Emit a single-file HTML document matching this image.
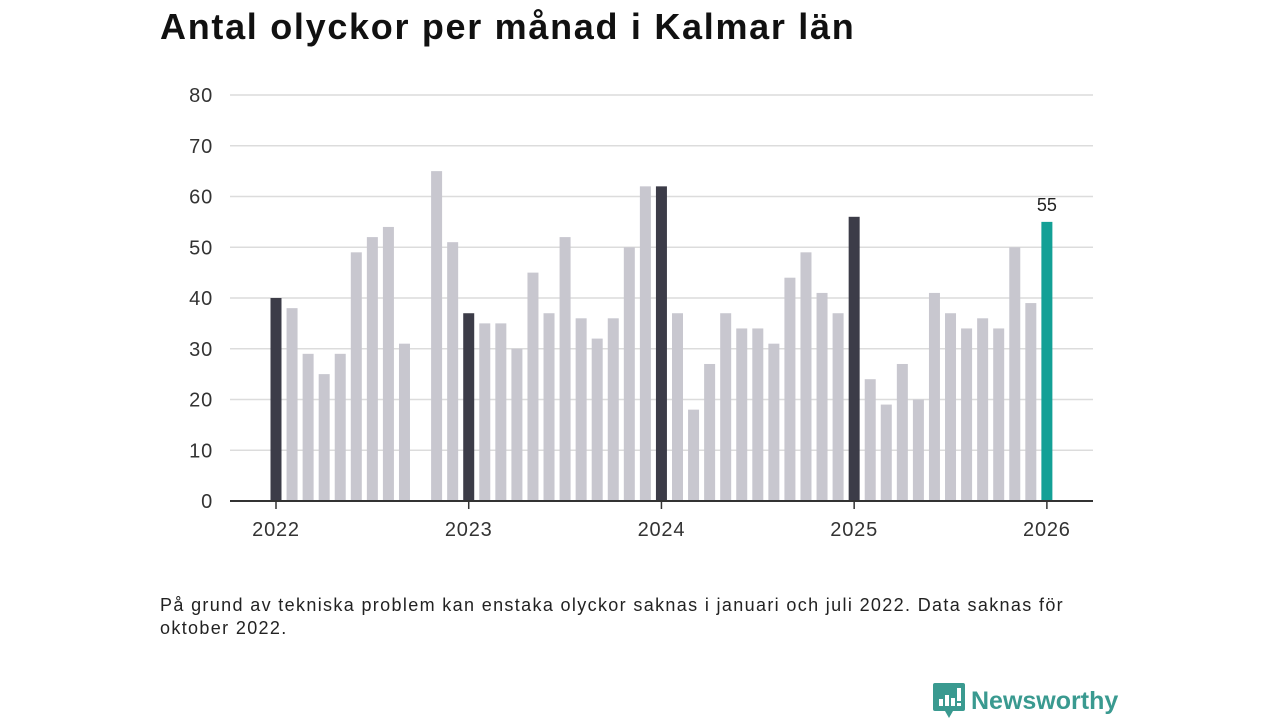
<!DOCTYPE html>
<html><head><meta charset="utf-8"><style>
body{margin:0;width:1280px;height:720px;background:#fff;font-family:"Liberation Sans",sans-serif;overflow:hidden;position:relative}
h1{position:absolute;left:160px;top:6px;margin:0;font-size:36px;font-weight:bold;color:#111;letter-spacing:1.7px}
.note{position:absolute;left:160px;top:594px;font-size:18px;color:#222;line-height:23px;width:920px;letter-spacing:1.35px}
.logo{position:absolute;left:933px;top:683px;display:flex;align-items:center}
.logo span{font-size:25px;font-weight:bold;color:#3a9a90;margin-left:6px}
</style></head><body>
<h1>Antal olyckor per månad i Kalmar län</h1>
<svg id="chart" width="1280" height="720" style="position:absolute;left:0;top:0"></svg>
<div class="note">På grund av tekniska problem kan enstaka olyckor saknas i januari och juli 2022. Data saknas för oktober 2022.</div>
<div class="logo">
<svg width="32" height="36" viewBox="0 0 32 36"><path d="M2 0H30a2 2 0 0 1 2 2V26a2 2 0 0 1-2 2H20l-4 7-4-7H2a2 2 0 0 1-2-2V2A2 2 0 0 1 2 0Z" fill="#3a9a90"/><rect x="6" y="16" width="4" height="7" fill="#fff"/><rect x="12" y="12" width="4" height="11" fill="#fff"/><rect x="18" y="15" width="4" height="8" fill="#fff"/><rect x="24" y="5" width="4" height="13" fill="#fff"/><rect x="24" y="20" width="4" height="3" fill="#fff"/></svg>
<span>Newsworthy</span></div>
<script>
const values=[40,38,29,25,29,49,52,54,31,null,65,51,37,35,35,30,45,37,52,36,32,36,50,62,62,37,18,27,37,34,34,31,44,49,41,37,56,24,19,27,20,41,37,34,36,34,50,39,55];
const yTicks=[0,10,20,30,40,50,60,70,80];
const xLabels=["2022","2023","2024","2025","2026"];
const svg=document.getElementById('chart');
const NS='http://www.w3.org/2000/svg';
const x=i=>276+i*16.06;
const y=v=>501-v*5.075;
function el(t,a){const e=document.createElementNS(NS,t);for(const k in a)e.setAttribute(k,a[k]);svg.appendChild(e);return e;}
yTicks.forEach(t=>{
 const l=el('line',{x1:230,x2:1093,y1:y(t),y2:y(t),stroke:'#dcdcdc','stroke-width':1.5});
 
 
 const tx=el('text',{x:213,y:y(t)+7,'text-anchor':'end','font-size':20,fill:'#333','letter-spacing':0.8});
 tx.textContent=t;
 
 
});
values.forEach((v,i)=>{
 if(v==null)return;
 const last=i===values.length-1, jan=i%12===0;
 const r=el('rect',{x:x(i)-5.5,y:y(v),width:11,height:y(0)-y(v),fill:last?'#13a096':jan?'#3c3c48':'#c8c7cf'});
 
 
 if(last){const t=el('text',{x:x(i),y:y(v)-11,'text-anchor':'middle','font-size':18,fill:'#222'});t.textContent=v;
  
  }
});
const ax=el('line',{x1:230,x2:1093,y1:501,y2:501,stroke:'#333','stroke-width':2});


xLabels.forEach((s,k)=>{
 const i=k*12;
 const tk=el('line',{x1:x(i),x2:x(i),y1:501,y2:509,stroke:'#333','stroke-width':1.5});
 
 
 const t=el('text',{x:x(i),y:536,'text-anchor':'middle','font-size':20,fill:'#333','letter-spacing':0.8});
 t.textContent=s;
 
 
});
</script>
</body></html>
